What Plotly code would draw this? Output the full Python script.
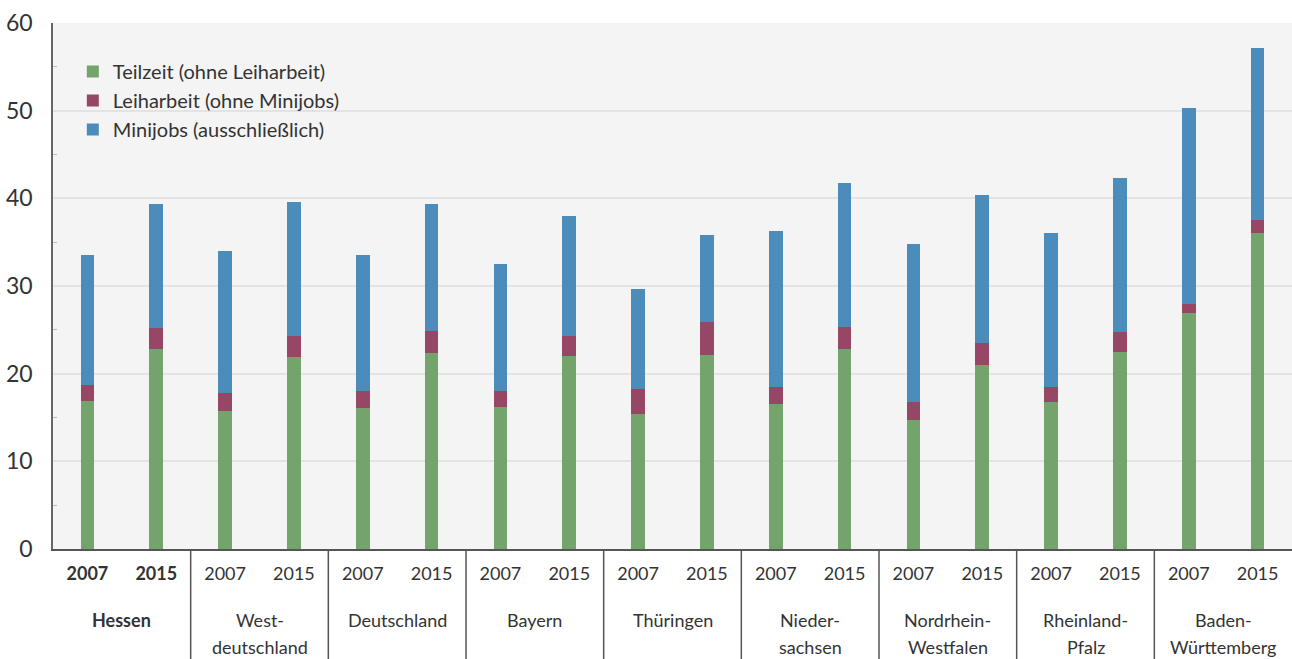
import plotly.graph_objects as go

regions = ["Hessen", "West-|deutschland", "Deutschland", "Bayern", "Thüringen",
           "Nieder-|sachsen", "Nordrhein-|Westfalen", "Rheinland-|Pfalz", "Baden-|Württemberg"]
years = ["2007", "2015"]

teilzeit = [16.9, 22.8, 15.75, 21.9, 16.1, 22.4, 16.2, 22.0, 15.4, 22.1, 16.55, 22.8, 14.75, 21.0, 16.8, 22.5, 26.9, 36.0]
leiharbeit = [1.8, 2.4, 2.05, 2.4, 1.9, 2.5, 1.8, 2.35, 2.9, 3.8, 1.95, 2.5, 2.05, 2.5, 1.7, 2.25, 1.1, 1.5]
minijobs = [14.8, 14.1, 16.2, 15.3, 15.5, 14.4, 14.5, 13.65, 11.4, 9.9, 17.8, 16.5, 18.0, 16.85, 17.6, 17.55, 22.35, 19.6]

series_names = ["Teilzeit (ohne Leiharbeit)", "Leiharbeit (ohne Minijobs)", "Minijobs (ausschließlich)"]
colors = ["#72a46b", "#954765", "#4c8cba"]

n = len(regions) * len(years)
xs = list(range(n))
ticktext = []
for gi, r in enumerate(regions):
    for y in years:
        ticktext.append(f"<b>{y}</b>" if gi == 0 else y)

FONT = "Lato, 'Noto Sans', sans-serif"
TXT = "#333333"
PLOT_H = 659 - 23 - 110

fig = go.Figure()
for name, vals, c in zip(series_names, [teilzeit, leiharbeit, minijobs], colors):
    fig.add_trace(go.Bar(x=xs, y=vals, name=name, marker=dict(color=c, line=dict(width=0)), width=0.2))

# group labels (one annotation per line, 27 px line pitch)
for gi, r in enumerate(regions):
    for li, line in enumerate(r.split("|")):
        txt = f"<b>{line}</b>" if gi == 0 else line
        ycen = -(71 + 27 * li) / PLOT_H
        fig.add_annotation(x=2 * gi + 0.5, y=ycen, xref="x", yref="paper", text=txt,
                           showarrow=False, yanchor="middle", xanchor="center",
                           font=dict(family=FONT, size=18, color=TXT))
# separators
for gi in range(1, len(regions)):
    xb = 2 * gi - 0.5
    fig.add_shape(type="line", x0=xb, x1=xb, xref="x", yref="paper", y0=0, y1=-0.215,
                  line=dict(color="#555555", width=1.5))

fig.update_layout(
    width=1292, height=659,
    barmode="stack",
    margin=dict(l=53, r=0, t=23, b=110),
    plot_bgcolor="#f4f4f4", paper_bgcolor="white",
    font=dict(family=FONT, size=20, color=TXT),
    legend=dict(x=0.016, y=0.945, xanchor="left", yanchor="top", traceorder="normal",
                bgcolor="rgba(0,0,0,0)", font=dict(size=20, color=TXT), itemsizing="constant",
                tracegroupgap=0),
    xaxis=dict(range=[-0.5, n - 0.5], tickmode="array", tickvals=xs, ticktext=ticktext,
               showgrid=False, showline=True, linecolor="#555555", linewidth=2, ticks="",
               tickfont=dict(size=18, color=TXT), zeroline=False, automargin=False,
               ticklabelstandoff=7),
    yaxis=dict(range=[0, 60], dtick=10, showgrid=True, gridcolor="#e3e3e3", gridwidth=1.5,
               showline=True, linecolor="#666666", linewidth=1.5, ticks="",
               tickfont=dict(size=23, color=TXT), zeroline=False, ticklabelstandoff=14,
               automargin=False,
               minor=dict(dtick=5, ticks="inside", ticklen=4, tickcolor="#bbbbbb", showgrid=False)),
)

fig.write_html("out.html", config={"displayModeBar": False},
               post_script="document.body.style.margin='0';document.body.style.overflow='hidden';")
